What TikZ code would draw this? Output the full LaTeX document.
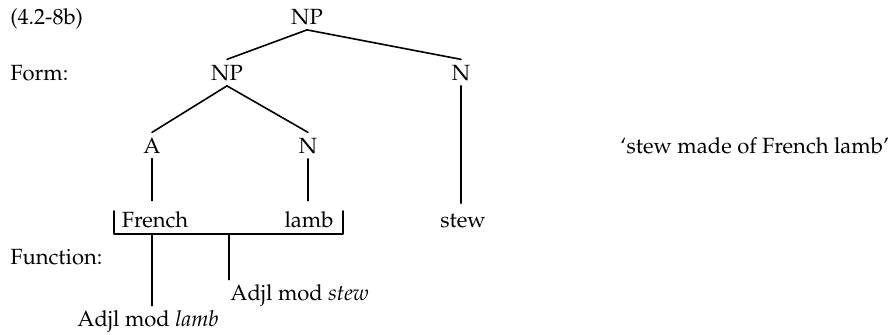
\documentclass[tikz,border=0pt]{standalone}
\usepackage[T1]{fontenc}
\usepackage{mathpazo}
\usepackage{tikz}
\usetikzlibrary{positioning,calc}

\begin{document}
\begin{tikzpicture}[x=0.5pt, y=-0.5pt, line cap=round, line join=round,
  font=\fontsize{11}{13}\selectfont,
  cat/.style={inner sep=2.5pt, anchor=base},
  word/.style={inner sep=2.5pt, anchor=base},
  lbl/.style={inner sep=0pt, anchor=base west},
  branch/.style={thick}]

\useasboundingbox (0,0) rectangle (893,334);

% --- row labels ---
\node[lbl] (ex)   at (10,24)  {(4.2-8b)};
\node[lbl] (form) at (10,80)  {Form:};
\node[lbl] (func) at (10,264) {Function:};

% --- form tree ---
\node[cat] (np)  at (307,24)  {NP};
\node[cat] (npl) at (227,80)  {NP};
\node[cat] (nr)  at (461,80)  {N};
\node[cat] (adj) at (152,153) {A};
\node[cat] (nm)  at (308,153) {N};

% words
\node[word] (french) at (155,227) {French};
\node[word] (lamb)   at (309,227) {lamb};
\node[word] (stew)   at (463,227) {stew};

% gloss
\node[lbl] (gloss) at (620,153) {`stew made of French lamb'};

\draw[branch] (np.south) -- (npl.north);
\draw[branch] (np.south) -- (nr.north);
\draw[branch] (npl.south) -- (adj.north);
\draw[branch] (npl.south) -- (nm.north);
\draw[branch, shorten >=2.5pt] (adj.south) -- (adj.south |- french.north);
\draw[branch, shorten >=2.5pt] (nm.south) -- (nm.south |- lamb.north);
\draw[branch, shorten >=2.5pt] (nr.south) -- (nr.south |- stew.north);

% --- function bracket ---
\coordinate (brl) at (114,211);
\coordinate (brr) at (343,211);
\coordinate (dl)  at (152,234);
\coordinate (ds)  at (229,234);
\draw[branch] (brl) |- (brr |- dl) -- (brr);

\node[lbl] (fnl) at (77,326)  {Adjl mod \textit{lamb}};
\node[lbl] (fns) at (230,300) {Adjl mod \textit{stew}};

\draw[branch] (dl) -- ($(dl |- fnl.north)+(0,-4)$);
\draw[branch] (ds) -- ($(ds |- fns.north)+(0,-4)$);

\end{tikzpicture}
\end{document}
